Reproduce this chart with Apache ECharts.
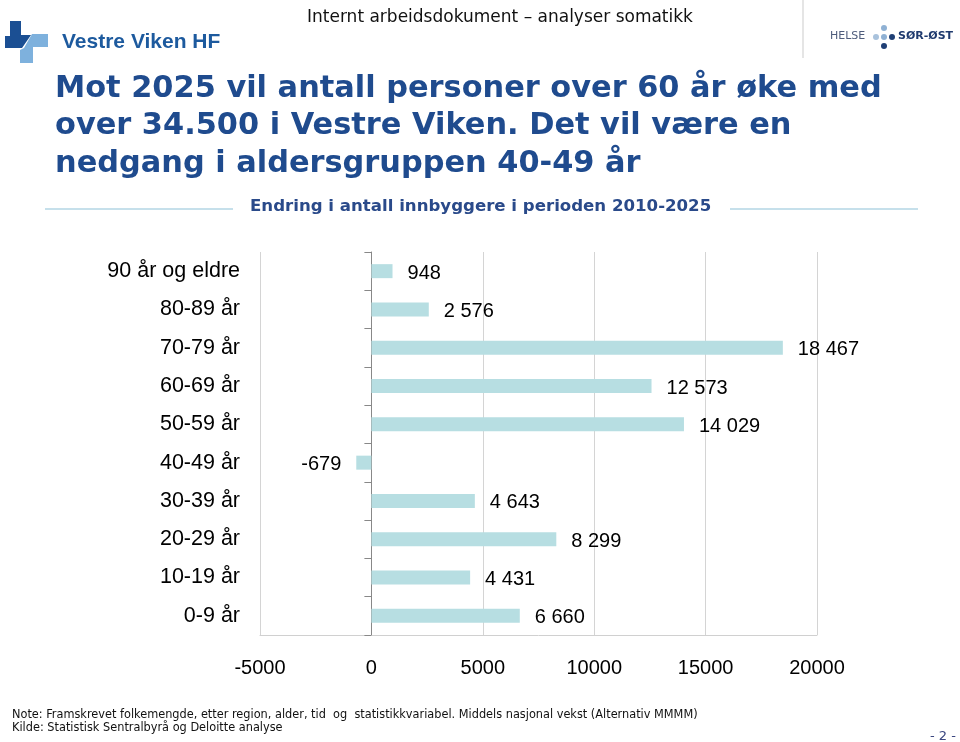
<!DOCTYPE html>
<html>
<head>
<meta charset="utf-8">
<script src="https://cdn.jsdelivr.net/npm/echarts@6/dist/echarts.min.js"></script>
<style>html,body{margin:0;padding:0;background:#fff;}#c{width:960px;height:742px;}</style>
</head>
<body>
<div id="c"></div>
<script>
const categories = ['90 år og eldre','80-89 år','70-79 år','60-69 år','50-59 år','40-49 år','30-39 år','20-29 år','10-19 år','0-9 år'];
const values = [948, 2576, 18467, 12573, 14029, -679, 4643, 8299, 4431, 6660];
const xTicks = [-5000, 0, 5000, 10000, 15000, 20000];

const titleLines = ['Mot 2025 vil antall personer over 60 år øke med', 'over 34.500 i Vestre Viken. Det vil være en', 'nedgang i aldersgruppen 40-49 år'];
const subtitle = 'Endring i antall innbyggere i perioden 2010-2025';
const header = 'Internt arbeidsdokument – analyser somatikk';
const noteLines = ['Note: Framskrevet folkemengde, etter region, alder, tid  og  statistikkvariabel. Middels nasjonal vekst (Alternativ MMMM)', 'Kilde: Statistisk Sentralbyrå og Deloitte analyse'];

const fmt = v => String(v).replace(/\B(?=(\d{3})+(?!\d))/g, ' ');
const titleColor = '#1f4b8e';

const chart = echarts.init(document.getElementById('c'), null, {renderer: 'canvas'});

const graphics = [];
// Vestre Viken logo
graphics.push({type: 'polygon', shape: {points: [[10,21],[21,21],[21,35],[31,35],[22,48],[5,48],[5,36],[10,36]]}, style: {fill: '#1b4f93'}});
graphics.push({type: 'polygon', shape: {points: [[32,34],[48,34],[48,47],[33,47],[33,63],[20,63],[20,50],[24,48]]}, style: {fill: '#7eb1dd'}});
graphics.push({type: 'text', left: 62, top: 32, style: {text: 'Vestre Viken HF', font: 'bold 21px "Liberation Sans", Arial, sans-serif', fill: '#1d5a9e'}});
// Header
graphics.push({type: 'text', left: 307, top: 9, style: {text: header, font: '17px "DejaVu Sans", Verdana, sans-serif', fill: '#111'}});
// Helse Sør-Øst logo
graphics.push({type: 'line', shape: {x1: 803, y1: 0, x2: 803, y2: 58}, style: {stroke: '#dddddd', lineWidth: 1.5}});
graphics.push({type: 'text', left: 830, top: 31, style: {text: 'HELSE', font: '11px "DejaVu Sans", sans-serif', fill: '#4f5d7c'}});
graphics.push({type: 'circle', shape: {cx: 884, cy: 28, r: 3}, style: {fill: '#8fb1d4'}});
graphics.push({type: 'circle', shape: {cx: 876, cy: 37, r: 3}, style: {fill: '#a9c2dc'}});
graphics.push({type: 'circle', shape: {cx: 884, cy: 37, r: 3}, style: {fill: '#8fb1d4'}});
graphics.push({type: 'circle', shape: {cx: 892, cy: 37, r: 3}, style: {fill: '#1f3f75'}});
graphics.push({type: 'circle', shape: {cx: 884, cy: 46, r: 3}, style: {fill: '#1f3f75'}});
graphics.push({type: 'text', left: 898, top: 31, style: {text: 'SØR-ØST', font: 'bold 11px "DejaVu Sans", sans-serif', fill: '#1f3a6e'}});
// Title
titleLines.forEach((t, i) => {
  graphics.push({type: 'text', left: 55, top: 88 + i * 37.5 - 14, style: {text: t, font: 'bold 30.4px "DejaVu Sans", Verdana, sans-serif', fill: titleColor}});
});
// Subtitle and lines
graphics.push({type: 'line', shape: {x1: 45, y1: 209, x2: 233, y2: 209}, style: {stroke: '#b3d6e4', lineWidth: 1.5}});
graphics.push({type: 'line', shape: {x1: 730, y1: 209, x2: 918, y2: 209}, style: {stroke: '#b3d6e4', lineWidth: 1.5}});
graphics.push({type: 'text', left: 250, top: 198, style: {text: subtitle, font: 'bold 16.6px "DejaVu Sans", Verdana, sans-serif', fill: '#2a4a8a'}});
// Notes
noteLines.forEach((t, i) => {
  graphics.push({type: 'text', left: 12, top: 708 + i * 13.5, style: {text: t, font: '12.6px "DejaVu Sans Condensed", "Liberation Sans Narrow", sans-serif', fill: '#111'}});
});
graphics.push({type: 'text', left: 930, top: 730, style: {text: '- 2 -', font: '13px "DejaVu Sans", sans-serif', fill: '#3a4680'}});

chart.setOption({
  animation: false,
  backgroundColor: '#ffffff',
  grid: {left: 260, right: 143, top: 252, bottom: 107, containLabel: false, outerBoundsMode: 'none'},
  xAxis: {
    type: 'value', min: xTicks[0], max: xTicks[xTicks.length - 1], interval: 5000,
    axisLine: {show: true, lineStyle: {color: '#d0d0d0', width: 1}},
    axisTick: {show: false},
    splitLine: {show: true, lineStyle: {color: '#d4d4d4', width: 1}},
    axisLabel: {margin: 23, fontSize: 20, color: '#000', fontFamily: '"Liberation Sans", Arial, sans-serif', formatter: v => String(v)}
  },
  yAxis: {
    type: 'category', data: categories, inverse: true,
    axisLine: {show: true, onZero: true, lineStyle: {color: '#888888', width: 1}},
    axisTick: {show: true, length: 7, lineStyle: {color: '#888888'}},
    axisLabel: {margin: 20, fontSize: 21.5, color: '#000', padding: [4, 0, 0, 0], fontFamily: '"Liberation Sans", Arial, sans-serif'}
  },
  series: [{
    type: 'bar', barWidth: 14,
    itemStyle: {color: '#b7dee2'},
    data: values.map(v => ({value: v, label: {position: v < 0 ? 'left' : 'right'}})),
    label: {show: true, distance: 15, offset: [0, 2], fontSize: 20, color: '#000', fontFamily: '"Liberation Sans", Arial, sans-serif', formatter: p => fmt(p.value)}
  }],
  graphic: graphics
});
</script>
</body>
</html>
